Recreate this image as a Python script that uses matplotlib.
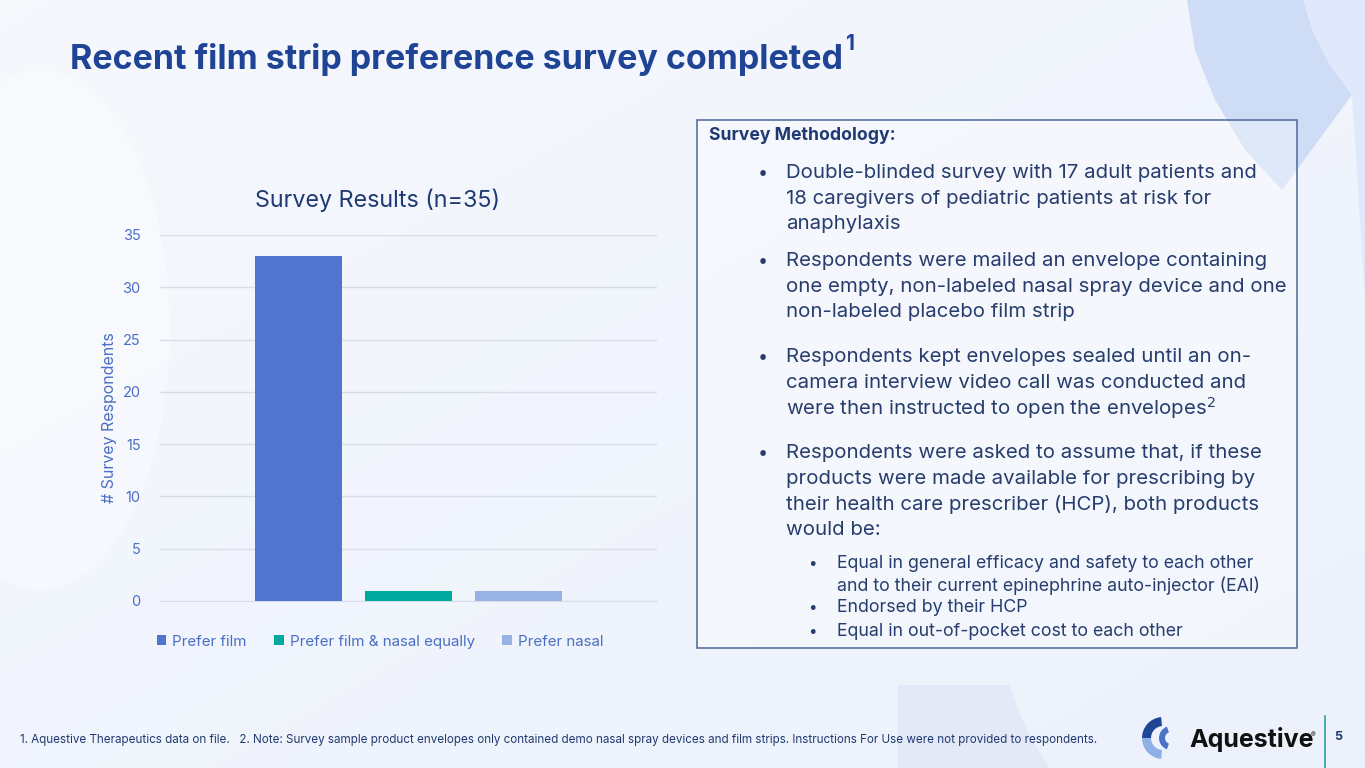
import numpy as np
import matplotlib
matplotlib.use('Agg')
import matplotlib.pyplot as plt
from matplotlib.patches import Rectangle, Wedge, Ellipse, Polygon

plt.rcParams['font.family'] = ['Inter', 'DejaVu Sans']

# data
categories = ['Prefer film', 'Prefer film & nasal equally', 'Prefer nasal']
respondents = [33, 1, 1]
bar_colors = ['#5074cf', '#00a99d', '#96b3e3']
y_ticks = [0, 5, 10, 15, 20, 25, 30, 35]

NAVY = '#1f3a72'
TEXT = '#263d6e'
TICK = '#4a6fc4'

W, H = 1365, 768
fig = plt.figure(figsize=(W / 100, H / 100), dpi=100)

# background canvas in pixel coordinates
bg = fig.add_axes([0, 0, 1, 1])
bg.set_xlim(0, W)
bg.set_ylim(H, 0)
bg.axis('off')
grad = np.linspace(0, 1, 256)
gx, gy = np.meshgrid(grad, grad)
g = 0.5 * gx + 0.5 * gy
c0 = np.array([0.965, 0.973, 0.992])
c1 = np.array([0.925, 0.945, 0.985])
img = c0[None, None, :] * (1 - g[..., None]) + c1[None, None, :] * g[..., None]
bg.imshow(img, extent=[0, W, H, 0], aspect='auto', zorder=0)

# faint decorative shapes
bg.add_patch(Polygon([(1303, 0), (1365, 0), (1365, 300), (1352, 95), (1330, 65), (1313, 32)],
                     closed=True, facecolor='#e0e9fb', edgecolor='none', zorder=1))
bg.add_patch(Polygon([(1187, 0), (1195, 50), (1215, 100), (1245, 150), (1282, 190),
                      (1352, 95), (1330, 65), (1313, 32), (1303, 0)],
                     closed=True, facecolor='#cfdcf5', edgecolor='none', zorder=1))
bg.add_patch(Ellipse((40, 330), 260, 520, facecolor='#ffffff', edgecolor='none', alpha=0.35, zorder=1))
bg.add_patch(Polygon([(898, 685), (1010, 685), (1020, 715), (1035, 745), (1050, 768), (898, 768)],
                     closed=True, facecolor='#e3e9f6', edgecolor='none', zorder=1))

# title
bg.text(70, 60, 'Recent film strip preference survey completed', fontsize=24.5,
        fontweight='bold', color='#1f4395', ha='left', va='center', zorder=5)
bg.text(846, 44, '1', fontsize=15, fontweight='bold', color='#1f4395',
        ha='left', va='center', zorder=5)

# methodology box
bg.add_patch(Rectangle((697, 120), 600, 528, facecolor=(1, 1, 1, 0.35),
                       edgecolor='#4d6797', linewidth=1.1, zorder=2))
bg.text(709, 136, 'Survey Methodology:', fontsize=12.7, fontweight='bold',
        color=NAVY, ha='left', va='center', zorder=5)

bullets = [
    (173, ['Double-blinded survey with 17 adult patients and',
           '18 caregivers of pediatric patients at risk for',
           'anaphylaxis']),
    (261, ['Respondents were mailed an envelope containing',
           'one empty, non-labeled nasal spray device and one',
           'non-labeled placebo film strip']),
    (357, ['Respondents kept envelopes sealed until an on-',
           'camera interview video call was conducted and',
           'were then instructed to open the envelopes$^{2}$']),
    (453, ['Respondents were asked to assume that, if these',
           'products were made available for prescribing by',
           'their health care prescriber (HCP), both products',
           'would be:']),
]
for y0, lines in bullets:
    bg.text(758, y0, '•', fontsize=13, color=TEXT, ha='left', va='center', zorder=5)
    for i, ln in enumerate(lines):
        bg.text(786, y0 + i * 25.7, ln, fontsize=14.7, color=TEXT,
                ha='left', va='center', zorder=5)

subs = [
    (564, ['Equal in general efficacy and safety to each other',
           'and to their current epinephrine auto-injector (EAI)']),
    (608, ['Endorsed by their HCP']),
    (631, ['Equal in out-of-pocket cost to each other']),
]
for y0, lines in subs:
    bg.text(808, y0, '•', fontsize=11, color=TEXT, ha='left', va='center', zorder=5)
    for i, ln in enumerate(lines):
        bg.text(837, y0 + i * 22, ln, fontsize=12.8, color=TEXT,
                ha='left', va='center', zorder=5)

# footnote
bg.text(20, 740, '1. Aquestive Therapeutics data on file.   2. Note: Survey sample product envelopes '
        'only contained demo nasal spray devices and film strips. Instructions For Use were not '
        'provided to respondents.', fontsize=8.4, color=NAVY, ha='left', va='center', zorder=5)

# logo
cx, cy = 1163, 738
bg.add_patch(Wedge((cx, cy), 21, 95, 180, width=9, facecolor='#8fb0e6', edgecolor='none', zorder=5))
bg.add_patch(Wedge((cx, cy), 21, 180, 265, width=9, facecolor='#1f4595', edgecolor='none', zorder=5))
bg.add_patch(Wedge((cx + 8, cy), 12, 110, 250, width=6, facecolor='#4a72c9', edgecolor='none', zorder=5))
bg.text(1189, 739, 'Aquestive', fontsize=18, fontweight='bold', color='#111111',
        ha='left', va='center', zorder=5)
bg.text(1311, 735, '®', fontsize=5, color='#111111', ha='left', va='center', zorder=5)
bg.plot([1325, 1325], [716, 768], color='#2aa39a', lw=1.2, zorder=5)
bg.text(1338, 737, '5', fontsize=9, fontweight='bold', color=NAVY,
        ha='center', va='center', zorder=5)

# bar chart
ax = fig.add_axes([160 / W, 1 - 601 / H, 497 / W, 366 / H])
ax.patch.set_alpha(0)
x = np.arange(len(categories))
bars = ax.bar(x, respondents, width=0.79, color=bar_colors, zorder=3)
ax.set_xlim(-1.26, 3.26)
ax.set_ylim(0, 35)
ax.set_yticks(y_ticks)
ax.set_xticks([])
ax.yaxis.grid(True, color='#d8dde8', lw=1, zorder=0)
ax.set_axisbelow(True)
for s in ['top', 'right', 'left']:
    ax.spines[s].set_visible(False)
ax.spines['bottom'].set_color('#d8dde8')
ax.tick_params(axis='y', length=0, labelsize=10.5, labelcolor=TICK, pad=14)
ax.set_ylabel('# Survey Respondents', fontsize=11.5, color=TICK, labelpad=4)
ax.text(0.437, 1.095, 'Survey Results (n=35)', transform=ax.transAxes, fontsize=16.8,
        color=NAVY, ha='center', va='center')
leg = ax.legend(handles=list(bars), labels=categories, loc='upper center',
                bbox_to_anchor=(0.443, -0.055), ncol=3, frameon=False,
                handlelength=0.65, handleheight=0.65, handletextpad=0.4,
                columnspacing=1.8, fontsize=10.9)
for t in leg.get_texts():
    t.set_color(TICK)

fig.savefig('out.png', dpi=100)
